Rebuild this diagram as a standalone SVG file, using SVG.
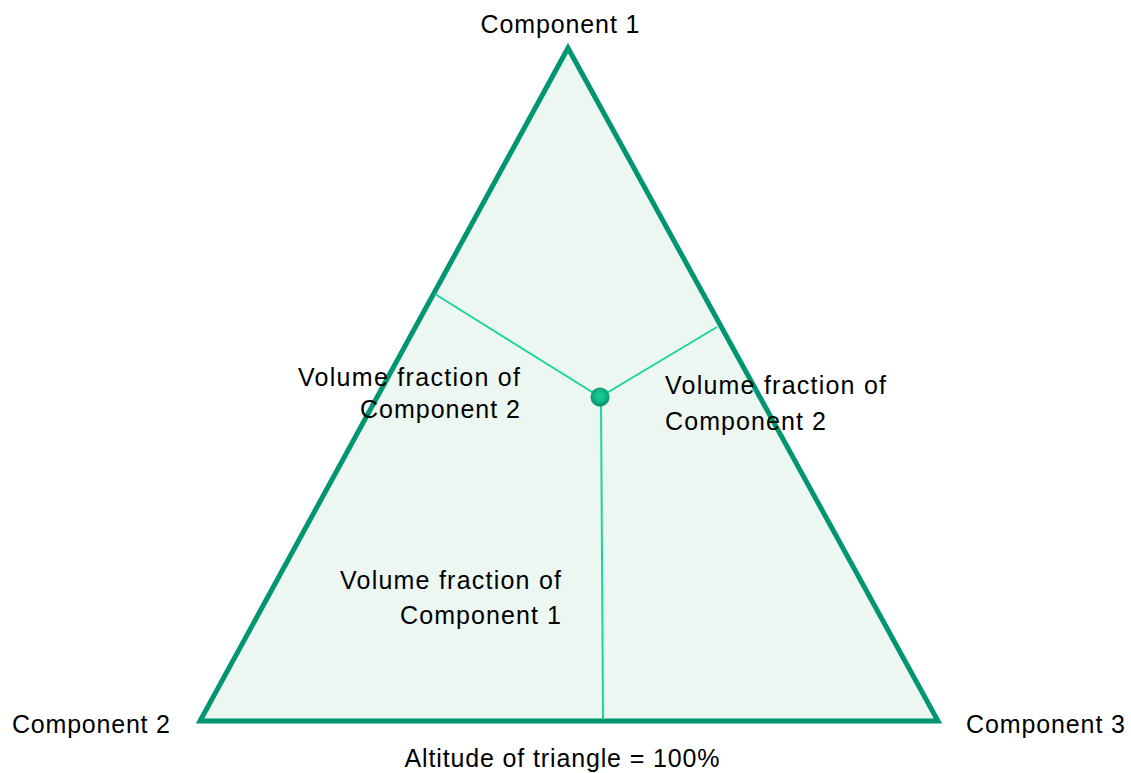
<svg xmlns="http://www.w3.org/2000/svg" width="1131" height="773" viewBox="0 0 1131 773">
<defs>
<style>
text{font-family:"Liberation Sans",Arial,sans-serif;font-size:25px;fill:#000}
.g{stroke:#1ad49e;stroke-width:2;fill:none}
</style>
<radialGradient id="dot" cx="0.5" cy="0.45" r="0.55">
<stop offset="0" stop-color="#1ad49e"/>
<stop offset="0.6" stop-color="#0fb383"/>
<stop offset="1" stop-color="#008f68"/>
</radialGradient>
</defs>
<rect width="1131" height="773" fill="#fff"/>
<g id="triangle">
<polygon points="568,48 200,721 938,721" fill="#edf7f1" stroke="#00966f" stroke-width="5" stroke-linejoin="miter"/>
</g>
<g id="connectors">
<line class="g" x1="600" y1="397" x2="435" y2="294"/>
<line class="g" x1="600" y1="397" x2="717" y2="327"/>
<line class="g" x1="601" y1="397" x2="603" y2="719"/>
</g>
<g id="point">
<circle cx="600" cy="397" r="9.5" fill="url(#dot)"/>
</g>
<g id="labels">
<text x="560" y="33" text-anchor="middle" textLength="159">Component 1</text>
<text x="12" y="733" textLength="158">Component 2</text>
<text x="966" y="733" textLength="159">Component 3</text>
<text x="562" y="767" text-anchor="middle" textLength="315">Altitude of triangle = 100%</text>
<text x="520" y="386" text-anchor="end" textLength="222">Volume fraction of</text>
<text x="520" y="418" text-anchor="end" textLength="160">Component 2</text>
<text x="665" y="394" textLength="221">Volume fraction of</text>
<text x="665" y="430" textLength="161">Component 2</text>
<text x="561" y="589" text-anchor="end" textLength="221">Volume fraction of</text>
<text x="561" y="624" text-anchor="end" textLength="161">Component 1</text>
</g>
</svg>
